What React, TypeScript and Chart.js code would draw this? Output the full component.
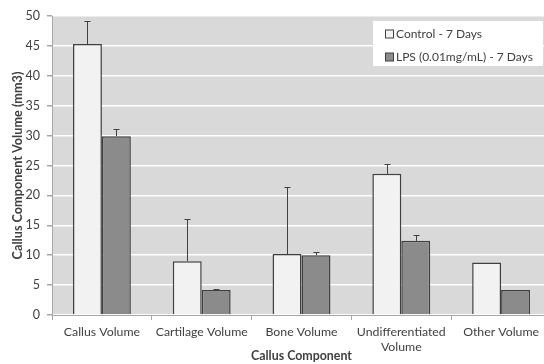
import React, { useEffect, useRef } from "react";
import { Chart, registerables } from "chart.js";

Chart.register(...registerables);

const categories: (string | string[])[] = [
  "Callus Volume",
  "Cartilage Volume",
  "Bone Volume",
  ["Undifferentiated", "Volume"],
  "Other Volume",
];
const controlValues = [45.3, 9.0, 10.2, 23.6, 8.8];
const controlErrors = [3.9, 7.1, 11.2, 1.6, 0];
const lpsValues = [29.9, 4.2, 10.0, 12.4, 4.2];
const lpsErrors = [1.2, 0.2, 0.5, 1.0, 0];
const seriesLabels = ["Control - 7 Days", "LPS (0.01mg/mL) - 7 Days"];
const yTicks = [0, 5, 10, 15, 20, 25, 30, 35, 40, 45, 50];

const FONT = "Lato, 'Open Sans', sans-serif";
const TEXT = "#404040";
const EDGE = "#404040";
const errorSets = [controlErrors, lpsErrors];

const plotBg = {
  id: "plotBg",
  beforeDraw(chart: any) {
    const { ctx, chartArea } = chart;
    ctx.save();
    ctx.fillStyle = "#d9d9d9";
    ctx.fillRect(chartArea.left, chartArea.top, chartArea.right - chartArea.left, chartArea.bottom - chartArea.top);
    ctx.restore();
  },
};

const errorBars = {
  id: "errorBars",
  afterDatasetsDraw(chart: any) {
    const { ctx } = chart;
    const y = chart.scales.y;
    ctx.save();
    ctx.strokeStyle = EDGE;
    ctx.lineWidth = 1;
    chart.data.datasets.forEach((ds: any, di: number) => {
      const meta = chart.getDatasetMeta(di);
      meta.data.forEach((el: any, i: number) => {
        const err = errorSets[di][i];
        if (!err) return;
        const x = Math.round(el.x) + 0.5;
        const y0 = y.getPixelForValue(ds.data[i]);
        const y1 = Math.round(y.getPixelForValue(ds.data[i] + err)) + 0.5;
        ctx.beginPath();
        ctx.moveTo(x, y0);
        ctx.lineTo(x, y1);
        ctx.moveTo(x - 3, y1);
        ctx.lineTo(x + 3, y1);
        ctx.stroke();
      });
    });
    ctx.restore();
  },
};

const boxLegend = {
  id: "boxLegend",
  afterDraw(chart: any) {
    const { ctx } = chart;
    const left = 373, top = 21, w = 170, h = 45;
    ctx.save();
    ctx.fillStyle = "#ffffff";
    ctx.fillRect(left, top, w, h);
    ctx.font = `12px ${FONT}`;
    ctx.textBaseline = "middle";
    ctx.textAlign = "left";
    chart.data.datasets.forEach((ds: any, i: number) => {
      const cy = 34 + i * 23;
      ctx.fillStyle = ds.backgroundColor;
      ctx.fillRect(385.5, cy - 4, 8, 8);
      ctx.strokeStyle = EDGE;
      ctx.lineWidth = 1;
      ctx.strokeRect(385.5, cy - 4, 8, 8);
      ctx.fillStyle = TEXT;
      ctx.fillText(ds.label, 396, cy);
    });
    ctx.restore();
  },
};

export default function App() {
  const ref = useRef<HTMLCanvasElement>(null);
  useEffect(() => {
    if (!ref.current) return;
    const chart = new Chart(ref.current, {
      type: "bar",
      data: {
        labels: categories,
        datasets: [
          {
            label: seriesLabels[0],
            data: controlValues,
            backgroundColor: "#f2f2f2",
            borderColor: EDGE,
            borderWidth: 1.5,
            categoryPercentage: 0.58,
            barPercentage: 1,
          },
          {
            label: seriesLabels[1],
            data: lpsValues,
            backgroundColor: "#8b8b8b",
            borderColor: EDGE,
            borderWidth: 1.5,
            categoryPercentage: 0.58,
            barPercentage: 1,
          },
        ],
      },
      options: {
        responsive: false,
        animation: false,
        devicePixelRatio: 1,
        layout: { padding: { left: 0, top: 16, right: 1, bottom: 0 } },
        plugins: { legend: { display: false }, tooltip: { enabled: false } },
        scales: {
          x: {
            grid: {
              drawOnChartArea: false,
              tickColor: "#a6a6a6",
              tickLength: 5,
              offset: true,
            },
            border: { color: "#a6a6a6", width: 1 },
            ticks: {
              color: TEXT,
              font: { family: FONT, size: 12.3, lineHeight: 1.22 },
              padding: 5,
              maxRotation: 0,
              autoSkip: false,
            },
            title: {
              display: true,
              text: "Callus Component",
              color: TEXT,
              font: { family: FONT, size: 12.4, weight: "bold", lineHeight: 1.2 },
              padding: { top: 0, bottom: 1 },
            },
            afterFit(scale: any) {
              scale.height = 49;
            },
          },
          y: {
            min: 0,
            max: 50,
            afterBuildTicks(scale: any) {
              scale.ticks = yTicks.map((v) => ({ value: v }));
            },
            grid: {
              color: "#ffffff",
              lineWidth: 1.5,
              tickColor: "#a6a6a6",
              tickLength: 5,
            },
            border: { color: "#a6a6a6", width: 1 },
            ticks: {
              color: TEXT,
              font: { family: FONT, size: 12.5 },
              padding: 7,
            },
            title: {
              display: true,
              text: "Callus Component Volume (mm3)",
              color: TEXT,
              font: { family: FONT, size: 12.7, weight: "bold", lineHeight: 1.2 },
              padding: { top: 10, bottom: 0 },
            },
            afterFit(scale: any) {
              scale.width = 52;
            },
          },
        },
      },
      plugins: [plotBg, errorBars, boxLegend],
    } as any);
    return () => chart.destroy();
  }, []);
  return (
    <div style={{ position: "fixed", left: 0, top: 0, width: 544, height: 364, overflow: "hidden", background: "#fff" }}>
      <canvas ref={ref} width={552} height={364} style={{ display: "block", width: 552, height: 364 }} />
    </div>
  );
}
